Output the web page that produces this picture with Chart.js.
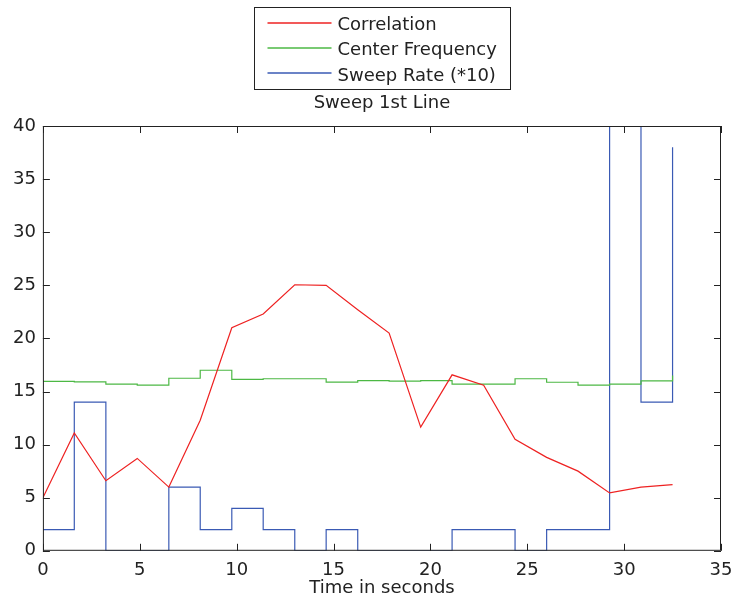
<!DOCTYPE html>
<html>
<head>
<meta charset="utf-8">
<script src="https://cdn.jsdelivr.net/npm/chart.js@4.4.0/dist/chart.umd.min.js"></script>
<style>
  html, body { margin: 0; padding: 0; background: #fff; }
  #wrap { width: 735px; height: 603px; }
</style>
</head>
<body>
<div id="wrap"><canvas id="chartCanvas" width="735" height="603"></canvas></div>
<script>
const timeSec = [0, 1.62, 3.25, 4.87, 6.5, 8.12, 9.75, 11.37, 13, 14.62, 16.25, 17.87, 19.5, 21.12, 22.75, 24.37, 26, 27.62, 29.25, 30.87, 32.5];
const correlation = [5.0, 11.1, 6.6, 8.7, 6.0, 12.3, 21.0, 22.3, 25.05, 25.0, 22.7, 20.5, 11.65, 16.57, 15.6, 10.5, 8.8, 7.5, 5.45, 6.0, 6.24];
const centerFreq = [15.95, 15.9, 15.7, 15.6, 16.25, 17.0, 16.15, 16.2, 16.2, 15.88, 16.03, 15.97, 16.03, 15.7, 15.7, 16.2, 15.87, 15.6, 15.7, 16.0, 16.5];
const sweepRate = [2, 14, 0, 0, 6, 2, 4, 2, 0, 2, 0, 0, 0, 2, 2, 0, 2, 2, 40, 14, 38];

const seriesLabels = ['Correlation', 'Center Frequency', 'Sweep Rate (*10)'];
const seriesColors = ['#ee2222', '#4cb844', '#3a5ab4'];
const chartTitle = 'Sweep 1st Line';
const xAxisLabel = 'Time in seconds';

const FONT = '"DejaVu Sans", sans-serif';
const toPoints = (ys) => ys.map((y, i) => ({ x: timeSec[i], y: y }));

// box round the plot with ticks pointing inward, like matlab
const boxPlugin = {
    id: 'matlabBox',
    afterDatasetsDraw(chart) {
        const { ctx, chartArea: a, scales } = chart;
        const len = 7;
        ctx.save();
        ctx.strokeStyle = '#222';
        ctx.lineWidth = 1;
        ctx.strokeRect(a.left + 0.5, a.top + 0.5, a.right - a.left - 1, a.bottom - a.top - 1);
        ctx.beginPath();
        scales.x.ticks.forEach(t => {
            const px = Math.round(scales.x.getPixelForValue(t.value)) + 0.5;
            ctx.moveTo(px, a.bottom); ctx.lineTo(px, a.bottom - len);
            ctx.moveTo(px, a.top); ctx.lineTo(px, a.top + len);
        });
        scales.y.ticks.forEach(t => {
            const py = Math.round(scales.y.getPixelForValue(t.value)) + 0.5;
            ctx.moveTo(a.left, py); ctx.lineTo(a.left + len, py);
            ctx.moveTo(a.right, py); ctx.lineTo(a.right - len, py);
        });
        ctx.stroke();
        ctx.restore();
    },
    afterDraw(chart) {
        const { ctx, chartArea: a } = chart;
        const cx = (a.left + a.right) / 2;
        ctx.save();
        ctx.font = '18px ' + FONT;
        ctx.fillStyle = '#222';
        ctx.textAlign = 'center';
        ctx.textBaseline = 'alphabetic';
        ctx.fillText(chartTitle, cx, 108);

        // legend
        const ds = chart.data.datasets;
        const textW = Math.max(...ds.map(d => ctx.measureText(d.label).width));
        const boxW = Math.round(83 + textW + 14);
        const left = Math.round(cx - boxW / 2) + 0.5;
        ctx.lineWidth = 1;
        ctx.strokeStyle = '#222';
        ctx.strokeRect(left, 7.5, boxW, 82);
        ctx.textAlign = 'left';
        ds.forEach((d, i) => {
            const base = 30 + i * 25.3;
            const ly = Math.round(base - 7.5);
            ctx.beginPath();
            ctx.strokeStyle = seriesColors[i];
            ctx.lineWidth = 1.4;
            ctx.moveTo(left + 13, ly);
            ctx.lineTo(left + 77, ly);
            ctx.stroke();
            ctx.fillStyle = '#222';
            ctx.fillText(d.label, left + 83, base);
        });
        ctx.restore();
    }
};

new Chart(document.getElementById('chartCanvas').getContext('2d'), {
    type: 'line',
    data: {
        datasets: [
            { label: seriesLabels[0], data: toPoints(correlation), borderColor: seriesColors[0], borderWidth: 1.2, pointRadius: 0, tension: 0 },
            { label: seriesLabels[1], data: toPoints(centerFreq), borderColor: seriesColors[1], borderWidth: 1.2, pointRadius: 0, stepped: true },
            { label: seriesLabels[2], data: toPoints(sweepRate), borderColor: seriesColors[2], borderWidth: 1.2, pointRadius: 0, stepped: true }
        ]
    },
    options: {
        responsive: false,
        animation: false,
        devicePixelRatio: 1,
        layout: { padding: { top: 126, left: 6, right: 14, bottom: 4 } },
        plugins: {
            legend: { display: false },
            title: { display: false },
            tooltip: { enabled: false }
        },
        scales: {
            x: {
                type: 'linear',
                min: 0,
                max: 35,
                grid: { display: false, drawTicks: false },
                border: { display: false },
                ticks: { stepSize: 5, padding: 9, color: '#222', font: { family: FONT, size: 18 } },
                title: { display: true, text: xAxisLabel, color: '#222', padding: { top: -13, bottom: 0 }, font: { family: FONT, size: 18 } },
                afterFit(scale) {
                    scale.paddingLeft = 0;
                    scale.paddingRight = 0;
                }
            },
            y: {
                min: 0,
                max: 40,
                grid: { display: false, drawTicks: false },
                border: { display: false },
                ticks: { stepSize: 5, padding: 7, color: '#222', font: { family: FONT, size: 18 } },
                afterFit(scale) {
                    scale.paddingTop = 0;
                    scale.paddingBottom = 0;
                }
            }
        }
    },
    plugins: [boxPlugin]
});
</script>
</body>
</html>
